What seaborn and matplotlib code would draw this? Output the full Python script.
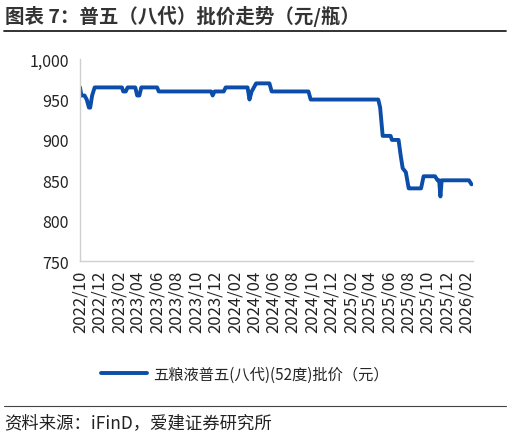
import pandas as pd
import matplotlib
matplotlib.use("Agg")
import matplotlib.pyplot as plt
import matplotlib.dates as mdates
from matplotlib.ticker import FuncFormatter
import seaborn as sns

# 普五（八代）批价，按图读取的转折点
dates = [
    "2022-10-01", "2022-10-05", "2022-10-15", "2022-10-22", "2022-10-29",
    "2022-11-02", "2022-11-08", "2022-11-16", "2023-02-10", "2023-02-14",
    "2023-02-22", "2023-02-28", "2023-03-24", "2023-03-30", "2023-04-06",
    "2023-04-12", "2023-06-01", "2023-06-06", "2023-11-18", "2023-11-23",
    "2023-11-29", "2023-12-28", "2024-01-03", "2024-03-12", "2024-03-18",
    "2024-03-25", "2024-04-01", "2024-04-08", "2024-04-15", "2024-05-20",
    "2024-05-27", "2024-09-20", "2024-09-27", "2025-04-28", "2025-05-04",
    "2025-05-12", "2025-06-06", "2025-06-10", "2025-07-01", "2025-07-08",
    "2025-07-14", "2025-07-24", "2025-08-02", "2025-08-08", "2025-09-10",
    "2025-09-18", "2025-10-24", "2025-11-01", "2025-11-06", "2025-11-10",
    "2025-11-14", "2026-02-08", "2026-02-16",
]
prices = [
    965, 955, 955, 950, 940,
    940, 955, 965, 965, 960,
    960, 965, 965, 955, 955,
    965, 965, 960, 960, 955,
    960, 960, 965, 965, 950,
    960, 965, 970, 970, 970,
    960, 960, 950, 950, 940,
    905, 905, 900, 900, 880,
    865, 860, 840, 840, 840,
    855, 855, 850, 850, 830,
    850, 850, 845,
]
series_name = "五粮液普五(八代)(52度)批价（元）"

df = pd.DataFrame({"date": pd.to_datetime(dates), "price": prices, "series": series_name})

sns.set_style("white")
plt.rcParams["font.family"] = ["Noto Sans CJK SC", "DejaVu Sans"]

fig = plt.figure(figsize=(5.1, 4.39), dpi=100)
ax = fig.add_axes([0.157, 0.403, 0.770, 0.460])

sns.lineplot(data=df, x="date", y="price", hue="series", palette=["#0B4DA8"],
             linewidth=2.8, ax=ax, legend=True)

ax.set_ylim(750, 1000)
ax.set_yticks(range(750, 1001, 50))
ax.yaxis.set_major_formatter(FuncFormatter(lambda v, p: f"{int(v):,}"))
ax.set_xlim(pd.Timestamp("2022-10-01"), pd.Timestamp("2026-02-20"))
ax.xaxis.set_major_locator(mdates.MonthLocator(bymonth=[2, 4, 6, 8, 10, 12]))
ax.xaxis.set_major_formatter(mdates.DateFormatter("%Y/%m"))
ax.tick_params(axis="x", rotation=90, labelsize=12, length=4, color="#d0d0d0",
               direction="out", pad=2, labelcolor="#222222")
ax.tick_params(axis="y", labelsize=11.5, length=0, pad=8, labelcolor="#222222")
ax.set_xlabel("")
ax.set_ylabel("")
for s in ["top", "right"]:
    ax.spines[s].set_visible(False)
for s in ["left", "bottom"]:
    ax.spines[s].set_color("#d0d0d0")
    ax.spines[s].set_linewidth(1.0)

ax.legend(loc="center", bbox_to_anchor=(0.48, 0.145), bbox_transform=fig.transFigure,
          frameon=False, fontsize=11, handlelength=3.0, handletextpad=0.4)

fig.text(0.010, 0.962, "图表 7：普五（八代）批价走势（元/瓶）", fontsize=14,
         fontweight="bold", color="#333333", va="center", ha="left")
fig.add_artist(plt.Line2D([0.008, 0.992], [0.926, 0.926], color="#222222", linewidth=1.3,
                          transform=fig.transFigure))
fig.add_artist(plt.Line2D([0.008, 0.992], [0.072, 0.072], color="#444444", linewidth=0.8,
                          transform=fig.transFigure))
fig.text(0.008, 0.035, "资料来源：iFinD，爱建证券研究所", fontsize=12.5,
         color="#222222", va="center", ha="left")

fig.savefig("out.png", dpi=100)
